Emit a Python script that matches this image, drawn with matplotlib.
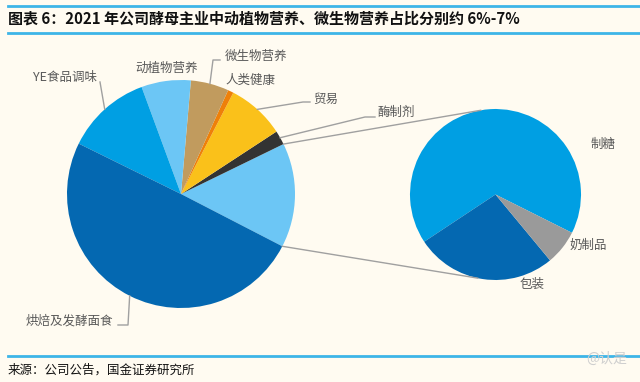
import numpy as np
import matplotlib.pyplot as plt
from matplotlib.lines import Line2D

plt.rcParams['font.family'] = ['Noto Sans CJK SC', 'DejaVu Sans']

# 左侧主饼图（2021 年酵母主业收入结构，%）
main_labels = ["其他", "酶制剂", "贸易", "人类健康", "微生物营养", "动植物营养", "YE食品调味", "烘焙及发酵面食"]
main_values = [14.8, 2.0, 8.2, 0.8, 5.4, 7.0, 12.1, 49.7]
main_colors = ["#6CC6F5", "#333333", "#FAC11A", "#EE8009", "#C19B5E", "#6CC6F5", "#009FE3", "#0468B1"]

# 右侧子饼图（“其他”拆分）
sub_labels = ["制糖", "包装", "奶制品"]
sub_values = [66.7, 26.7, 6.6]
sub_colors = ["#009FE3", "#0468B1", "#9A9A9A"]

BG = "#FFFBF1"
LINE = "#A0A0A0"
TXT = "#595959"
H = 382

fig = plt.figure(figsize=(6.4, 3.82), dpi=100, facecolor=BG)
ax = fig.add_axes([0, 0, 1, 1])
ax.set_facecolor(BG)

def py(y):
    return H - y

c1, r1 = (181, py(194)), 114
c2, r2 = (495.5, py(194.5)), 85.5

w1, _ = ax.pie(main_values, colors=main_colors, startangle=-27.3, counterclock=True,
               center=c1, radius=r1, wedgeprops=dict(linewidth=0), frame=True)
w2, _ = ax.pie(sub_values, colors=sub_colors, startangle=-26.6, counterclock=True,
               center=c2, radius=r2, wedgeprops=dict(linewidth=0), frame=True)
ax.set_xlim(0, 640)
ax.set_ylim(0, H)
ax.set_aspect("equal")
ax.axis("off")

def edge(c, r, ang):
    a = np.deg2rad(ang)
    return c[0] + r * np.cos(a), c[1] + r * np.sin(a)

def mid(w):
    return (w.theta1 + w.theta2) / 2

# 连接线：“其他”扇区 -> 子饼图
p_top = edge(c1, r1, w1[0].theta2)
p_bot = edge(c1, r1, w1[0].theta1)
q_top = edge(c2, r2, 100)
q_bot = edge(c2, r2, -102)
ax.plot([p_top[0], q_top[0]], [p_top[1], q_top[1]], color=LINE, lw=1)
ax.plot([p_bot[0], q_bot[0]], [p_bot[1], q_bot[1]], color=LINE, lw=1)

# 标签与引导线
def leader(w, pts, text, tx, ty, ha="left"):
    s = edge(c1, r1, mid(w))
    xs = [s[0]] + [p[0] for p in pts]
    ys = [s[1]] + [py(p[1]) for p in pts]
    if pts:
        ax.plot(xs, ys, color=LINE, lw=1)
    ax.text(tx, py(ty), text, ha=ha, va="center", fontsize=9, color=TXT)

leader(w1[1], [(365, 117), (375, 117)], main_labels[1], 378, 112)
leader(w1[2], [(303, 102), (310, 102)], main_labels[2], 313, 99)
leader(w1[3], [], main_labels[3], 225, 80)
leader(w1[4], [(213, 60), (220, 60)], main_labels[4], 225, 56)
leader(w1[5], [], main_labels[5], 135, 68)
leader(w1[6], [(100, 82)], main_labels[6], 97, 77, ha="right")
leader(w1[7], [(128, 325), (118, 325)], main_labels[7], 113, 321, ha="right")

ax.text(591, py(144), sub_labels[0], ha="left", va="center", fontsize=9, color=TXT)
ax.text(520, py(284), sub_labels[1], ha="left", va="center", fontsize=9, color=TXT)
ax.text(570, py(245), sub_labels[2], ha="left", va="center", fontsize=9, color=TXT)

# 标题与来源
ax.add_line(Line2D([8, 640], [py(5.5), py(5.5)], color="#3DB5E8", lw=2))
ax.add_line(Line2D([8, 640], [py(33), py(33)], color="#3DB5E8", lw=2))
ax.add_line(Line2D([8, 640], [py(355.5), py(355.5)], color="#3DB5E8", lw=2))
ax.text(8, py(19), "图表 6：2021 年公司酵母主业中动植物营养、微生物营养占比分别约 6%-7%",
        ha="left", va="center", fontsize=10.8, fontweight="bold", color="#111111")
ax.text(8, py(370), "来源：公司公告，国金证券研究所", ha="left", va="center",
        fontsize=9, color="#111111")
ax.text(627, py(359), "@认是", ha="right", va="center", fontsize=10, color="#CFCFCF")

fig.savefig("out.png", dpi=100, facecolor=BG)
